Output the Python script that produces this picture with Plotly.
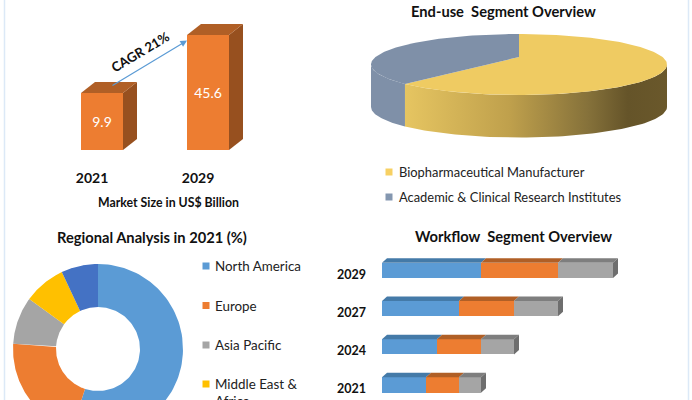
import numpy as np
import plotly.graph_objects as go

# ---------- data ----------
market_years = [2021, 2029]
market_values = [9.9, 45.6]
market_title = "Market Size in US$ Billion"
cagr_label = "CAGR 21%"

enduse_labels = ["Biopharmaceutical Manufacturer", "Academic & Clinical Research Institutes"]
enduse_shares = [64, 36]

region_labels = ["North America", "Europe", "Asia Pacific", "Middle East &<br>Africa", "South America"]
region_shares = [55, 21, 9, 8, 7]

workflow_years = ["2021", "2024", "2027", "2029"]
workflow_a = [4, 5, 7, 9]
workflow_b = [3, 4, 5, 7]
workflow_c = [2, 3, 4, 5]

# ---------- style ----------
W, H = 692, 400
FONT = "Lato"
ORANGE, ORANGE_TOP, ORANGE_SIDE = "#ED7D31", "#B05F26", "#97501F"
BLUE, BLUE_TOP = "#5B9BD5", "#447AA8"
GRAY, GRAY_TOP, GRAY_SIDE = "#A5A5A5", "#7E7E7E", "#6E6E6E"
REGION_COLORS = ["#5B9BD5", "#ED7D31", "#A5A5A5", "#FFC000", "#4472C4"]
PIE_YELLOW, PIE_SLATE = "#EFCB62", "#7F90A8"
PIE_LEG = ["#F7D063", "#8497B0"]
WALL_SCALE = [[0, "#E6C561"], [0.4, "#BFA04C"], [0.7, "#85713A"], [0.85, "#655429"], [1, "#6A582B"]]


def px_x(a, b):
    return [a / W, b / W]


def px_y(top, bottom):
    return [1 - bottom / H, 1 - top / H]


fig = go.Figure()
base_axis = dict(showgrid=False, zeroline=False, showline=False, ticks="", fixedrange=True)


def poly(xs, ys, color, xa, ya, name=None, gradient=None):
    kw = dict(fillgradient=dict(type="horizontal", colorscale=gradient)) if gradient else dict(fillcolor=color)
    fig.add_trace(go.Scatter(x=list(xs), y=list(ys), xaxis=xa, yaxis=ya, mode="lines", fill="toself",
                             line=dict(width=0, color=color), showlegend=False, hoverinfo="name" if name else "skip",
                             name=name or "", **kw))


# ---------- market size: x unit 13.25 px per year, log y axis ----------
PXY = 13.25
DEC = 87.4
floor = 2.2
fig.update_layout(
    xaxis=dict(base_axis, domain=px_x(60, 260), range=[2021 - 42 / PXY, 2021 + 158 / PXY],
               tickvals=[y - 10 / PXY for y in market_years], ticktext=[str(y) for y in market_years],
               ticklabelstandoff=18, tickfont=dict(family=FONT, size=14, color="#111111", weight="bold"),
               anchor="y"),
    yaxis=dict(base_axis, domain=px_y(15, 150), type="log",
               range=[np.log10(floor), np.log10(floor) + 135 / DEC], showticklabels=False, anchor="x"),
)
bw = 42 / PXY
dx = 14 / PXY
up = 10 ** (11 / DEC)
for yr, v in zip(market_years, market_values):
    l, r = yr - bw / 2, yr + bw / 2
    poly([r, r + dx, r + dx, r], [floor, floor * up, v * up, v], ORANGE_SIDE, "x", "y")
    poly([l, r, r + dx, l + dx], [v, v, v * up, v * up], ORANGE_TOP, "x", "y")
fig.add_trace(go.Bar(x=market_years, y=market_values, width=bw, marker=dict(color=ORANGE, line=dict(width=0)),
                     text=[str(v) for v in market_values], textposition="inside", insidetextanchor="middle",
                     textangle=0, textfont=dict(family=FONT, size=14, color="white"), showlegend=False,
                     xaxis="x", yaxis="y", name="Market size"))

# ---------- end-use 3D pie: axis units are pixels ----------
fig.update_layout(
    xaxis2=dict(base_axis, domain=px_x(350, 688), range=[350, 688], showticklabels=False, anchor="y2"),
    yaxis2=dict(base_axis, domain=px_y(20, 215), range=[215, 20], showticklabels=False, anchor="x2"),
)
cx, cy, rx, ry, apex_y, wall = 519, 64.5, 148, 30.5, 57, 42.5


def ell(t):
    return cx + rx * np.sin(t), cy - ry * np.cos(t)


seam = 2 * np.pi * enduse_shares[0] / sum(enduse_shares)
# walls
t = np.linspace(np.pi / 2, seam, 80)
x, y = ell(t)
poly(np.r_[x, x[::-1]], np.r_[y, (y + wall)[::-1]], PIE_YELLOW, "x2", "y2", gradient=WALL_SCALE)
t = np.linspace(seam, 3 * np.pi / 2, 40)
x, y = ell(t)
poly(np.r_[x, x[::-1]], np.r_[y, (y + wall)[::-1]], PIE_SLATE, "x2", "y2")
# top faces
t = np.linspace(0, seam, 160)
x, y = ell(t)
poly(np.r_[cx, x], np.r_[apex_y, y], PIE_YELLOW, "x2", "y2", name=enduse_labels[0])
t = np.linspace(seam, 2 * np.pi, 100)
x, y = ell(t)
poly(np.r_[cx, x], np.r_[apex_y, y], PIE_SLATE, "x2", "y2", name=enduse_labels[1])
# legend
pie_leg_y = [172, 197]
fig.add_trace(go.Scatter(x=[389, 389], y=pie_leg_y, xaxis="x2", yaxis="y2", mode="markers",
                         marker=dict(symbol="square", size=7, color=PIE_LEG),
                         showlegend=False, hoverinfo="skip"))
annos = []
for name, ly in zip(enduse_labels, pie_leg_y):
    annos.append(dict(x=397.5, y=ly - 0.5, xref="x2", yref="y2", text=name, showarrow=False, align="left",
                      xanchor="left", yanchor="middle", borderpad=0, font=dict(family=FONT, size=12.9, color="#222222")))

# ---------- regional donut: axis units are pixels, clipped by the canvas ----------
fig.update_layout(
    xaxis3=dict(base_axis, domain=px_x(0, 340), range=[0, 340], showticklabels=False, anchor="y3"),
    yaxis3=dict(base_axis, domain=px_y(245, 400), range=[400, 245], showticklabels=False, anchor="x3"),
)
dcx, dcy, R, r0 = 98, 349, 85, 42
edges = np.cumsum([0] + region_shares) / sum(region_shares) * 2 * np.pi
for i, name in enumerate(region_labels):
    t = np.linspace(edges[i], edges[i + 1], 90)
    xo, yo = dcx + R * np.sin(t), dcy - R * np.cos(t)
    xi, yi = dcx + r0 * np.sin(t), dcy - r0 * np.cos(t)
    poly(np.r_[xo, xi[::-1]], np.r_[yo, yi[::-1]], REGION_COLORS[i], "x3", "y3", name=name.replace("<br>", " "))
legend_y = [266, 305.5, 345, 384]
fig.add_trace(go.Scatter(x=[206] * 4, y=legend_y, xaxis="x3", yaxis="y3", mode="markers",
                         marker=dict(symbol="square", size=7, color=REGION_COLORS[:4]),
                         showlegend=False, hoverinfo="skip"))
for name, ly in zip(region_labels, legend_y):
    annos.append(dict(x=213.5, y=ly - 9, xref="x3", yref="y3", text=name, showarrow=False, align="left",
                      xanchor="left", yanchor="top", borderpad=0, font=dict(family=FONT, size=13.4, color="#222222")))

# ---------- workflow stacked bars: 11 px per unit ----------
UNIT = 11
STEP = 38.2
fig.update_layout(
    xaxis4=dict(base_axis, domain=px_x(382, 660), range=[0, 278 / UNIT], showticklabels=False, anchor="y4"),
    yaxis4=dict(base_axis, domain=px_y(250, 400), range=[-15 / STEP, 135 / STEP],
                tickvals=[i - 4 / STEP for i in range(4)], ticktext=workflow_years,
                ticklabelstandoff=15, tickfont=dict(family=FONT, size=12.5, color="#111111", weight="bold"),
                anchor="x4"),
)
bar_h = 15.3 / STEP
d_x, d_y = 5 / UNIT, 4.5 / STEP
series = [("Segment A", workflow_a, BLUE, BLUE_TOP), ("Segment B", workflow_b, ORANGE, ORANGE_TOP),
          ("Segment C", workflow_c, GRAY, GRAY_TOP)]
left = np.zeros(4)
for name, vals, col, top in series:
    vals = np.array(vals, float)
    for i in range(4):
        a, b = left[i], left[i] + vals[i]
        yt = i + bar_h / 2
        poly([a, b, b + d_x, a + d_x], [yt, yt, yt + d_y, yt + d_y], top, "x4", "y4")
    left += vals
for i in range(4):
    b = left[i]
    poly([b, b + d_x, b + d_x, b], [i - bar_h / 2, i - bar_h / 2 + d_y, i + bar_h / 2 + d_y, i + bar_h / 2],
         GRAY_SIDE, "x4", "y4")
for name, vals, col, top in series:
    fig.add_trace(go.Bar(y=list(range(4)), x=vals, orientation="h", width=bar_h, name=name,
                         marker=dict(color=col, line=dict(width=0)), xaxis="x4", yaxis="y4", showlegend=False))

# ---------- titles and notes ----------


def ptext(x, y, s, size, weight="bold", **kw):
    annos.append(dict(x=x / W, y=1 - y / H, xref="paper", yref="paper", text=s, showarrow=False,
                      xanchor="center", yanchor="middle",
                      font=dict(family=FONT, size=size, color="#111111", weight=weight), **kw))


ptext(503, 11, "End-use\u00a0 Segment Overview", 14.7)
ptext(152, 237, "Regional Analysis in 2021 (%)", 14.7)
ptext(513, 236, "Workflow\u00a0 Segment Overview", 14.7)
ptext(168, 202.5, market_title, 12.3)
ptext(140, 52.5, cagr_label, 13.2, textangle=-31)
annos.append(dict(x=187 / W, y=1 - 40.5 / H, ax=-76, ay=46, xref="paper", yref="paper",
                  text="", showarrow=True, arrowhead=2, arrowsize=1.1,
                  arrowwidth=1.2, arrowcolor=BLUE))

shapes = [dict(type="line", xref="paper", yref="paper", x0=px / W, x1=px / W, y0=0, y1=1,
               line=dict(color="#DCE9F7", width=1.5)) for px in (4.5, 688.5)]

fig.update_layout(width=W, height=H, margin=dict(l=0, r=0, t=0, b=0), paper_bgcolor="white", plot_bgcolor="rgba(0,0,0,0)",
                  barmode="stack", showlegend=False, annotations=annos, shapes=shapes,
                  font=dict(family=FONT), hovermode="closest")

fig.write_html("out.html", post_script="document.body.style.margin='0';document.body.style.overflow='hidden';",
               config=dict(displayModeBar=False))
